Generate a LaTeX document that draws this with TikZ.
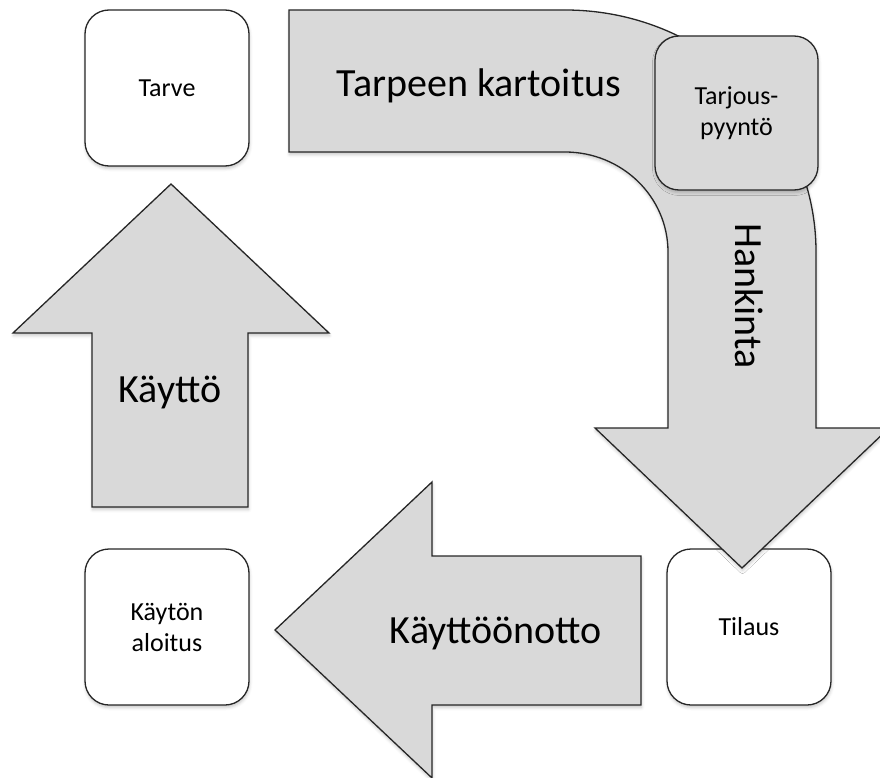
\documentclass[tikz,border=0pt]{standalone}
\usepackage{fontspec}
\setmainfont{Carlito}
\usetikzlibrary{shadows.blur}
\definecolor{arrowfill}{HTML}{D9D9D9}
\definecolor{edge}{HTML}{262626}
\tikzset{
  soft/.style={blur shadow={shadow xshift=0.5pt, shadow yshift=-2.5pt, shadow blur radius=3pt, shadow opacity=22}},
  blockarrow/.style={draw=edge, line width=1.3pt, fill=arrowfill, line join=miter, soft},
  stagebox/.style={draw=edge, line width=1.3pt, fill=white, rounded corners=24pt,
    minimum width=164pt, minimum height=156pt, soft, font=\fontsize{26}{31}\selectfont, align=center},
  biglabel/.style={font=\fontsize{40}{48}\selectfont, inner sep=0pt}
}
\begin{document}
\begin{tikzpicture}[x=1pt, y=-1pt]
  \useasboundingbox (0,0) rectangle (880,778);
  \clip (0,0) rectangle (880,778);

  % corner boxes
  \node[stagebox] (tarve) at (167,88) {Tarve};
  \node[stagebox] (aloitus) at (167,627) {Käytön\\aloitus};
  \node[stagebox] (tilaus) at (749,627) {Tilaus};

  % bent arrow: needs survey -> procurement
  \path[blockarrow] (289,10) -- (565,10)
    .. controls (703.6,10) and (816,118.3) .. (816,252)
    -- (816,428) -- (889,428) -- (742,568) -- (595,428) -- (668,428) -- (668,252)
    .. controls (668,196.8) and (621.9,152) .. (565,152)
    -- (289,152) -- cycle;
  \node[biglabel, anchor=base] (kartoitus) at (479,97) {Tarpeen kartoitus};
  \node[biglabel, rotate=-90] (hankinta) at (749,296) {Hankinta};

  % request-for-quote box on the bend
  \node[stagebox, fill=arrowfill, minimum width=163pt, minimum height=154pt] (tarjous) at (736.5,113) {Tarjous-\\pyyntö};

  % left arrow: deployment
  \path[blockarrow] (641,556) -- (432,556) -- (432,482) -- (275,630) -- (432,778) -- (432,705) -- (641,705) -- cycle;
  \node[biglabel, anchor=base] (kayttoonotto) at (496,643) {Käyttöönotto};

  % up arrow: use
  \path[blockarrow] (92,507) -- (92,333) -- (13,333) -- (171,184) -- (329,333) -- (248,333) -- (248,507) -- cycle;
  \node[biglabel, anchor=base] (kaytto) at (170,402) {Käyttö};
\end{tikzpicture}
\end{document}
